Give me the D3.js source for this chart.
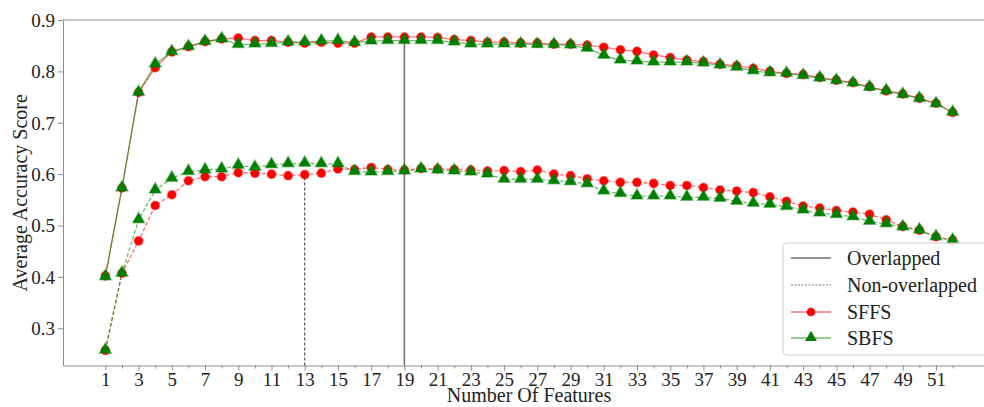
<!DOCTYPE html>
<html>
<head>
<meta charset="utf-8">
<script src="https://cdn.jsdelivr.net/npm/d3@7"></script>
<style>
  body { margin: 0; background: #fff; }
  svg { display: block; }
  svg text { font-family: "Liberation Serif", "Times New Roman", serif; }
</style>
</head>
<body>
<svg class="chart"></svg>
<script>
// number of features 1..52
var features = d3.range(1, 53);
var xTickLabels = d3.range(1, 52, 2);
var yTickLabels = [0.3, 0.4, 0.5, 0.6, 0.7, 0.8, 0.9];

// overlapped (solid)
var sffsOverlapped = [0.402, 0.573, 0.759, 0.807, 0.838, 0.848, 0.858, 0.863, 0.865, 0.860,
    0.860, 0.857, 0.855, 0.857, 0.855, 0.855, 0.867, 0.867, 0.867, 0.867,
    0.866, 0.862, 0.860, 0.857, 0.857, 0.855, 0.855, 0.853, 0.853, 0.851,
    0.847, 0.842, 0.839, 0.832, 0.827, 0.822, 0.819, 0.814, 0.811, 0.806,
    0.800, 0.796, 0.794, 0.788, 0.783, 0.778, 0.770, 0.762, 0.756, 0.748,
    0.738, 0.720];
var sbfsOverlapped = [0.400, 0.573, 0.759, 0.814, 0.838, 0.848, 0.858, 0.863, 0.852, 0.853,
    0.854, 0.857, 0.857, 0.859, 0.860, 0.856, 0.859, 0.860, 0.860, 0.860,
    0.860, 0.857, 0.853, 0.853, 0.853, 0.853, 0.852, 0.852, 0.851, 0.845,
    0.831, 0.822, 0.820, 0.818, 0.818, 0.818, 0.816, 0.812, 0.808, 0.801,
    0.797, 0.796, 0.792, 0.787, 0.782, 0.777, 0.769, 0.762, 0.755, 0.747,
    0.737, 0.720];

// non-overlapped (dashed)
var sffsNonOverlapped = [0.257, 0.407, 0.470, 0.539, 0.560, 0.587, 0.595, 0.595, 0.603, 0.602,
    0.600, 0.597, 0.599, 0.602, 0.610, 0.609, 0.613, 0.609, 0.608, 0.611,
    0.610, 0.609, 0.608, 0.606, 0.607, 0.605, 0.608, 0.600, 0.597, 0.591,
    0.587, 0.584, 0.584, 0.582, 0.578, 0.578, 0.574, 0.569, 0.567, 0.564,
    0.556, 0.547, 0.538, 0.534, 0.529, 0.526, 0.522, 0.511, 0.498, 0.491,
    0.478, 0.471];
var sbfsNonOverlapped = [0.257, 0.407, 0.511, 0.569, 0.592, 0.605, 0.608, 0.610, 0.617, 0.613,
    0.618, 0.620, 0.621, 0.620, 0.620, 0.605, 0.604, 0.605, 0.606, 0.610,
    0.608, 0.606, 0.604, 0.600, 0.590, 0.590, 0.590, 0.587, 0.585, 0.581,
    0.567, 0.562, 0.557, 0.557, 0.557, 0.555, 0.555, 0.553, 0.547, 0.543,
    0.541, 0.537, 0.530, 0.524, 0.521, 0.517, 0.508, 0.503, 0.497, 0.491,
    0.478, 0.471];

// best subsets marked with vertical lines
var overlappedBest = 19, overlappedBestScore = 0.867;
var nonOverlappedBest = 13, nonOverlappedBestScore = 0.599;

var width = 984, height = 407;
var margin = { top: 20, right: -11, bottom: 41.5, left: 63 };

var svg = d3.select(".chart")
    .attr("width", width)
    .attr("height", height);

var x = d3.scaleLinear().domain([-1.55, 54.55]).range([margin.left, width - margin.right]);
var y = d3.scaleLinear().domain([0.2275, 0.9]).range([height - margin.bottom, margin.top]);

var red = "#ff0000", green = "#008000";

// axes
var xAxis = svg.append("g")
    .attr("transform", "translate(0," + y.range()[0] + ")")
    .call(d3.axisBottom(x).tickValues(xTickLabels).tickFormat(d3.format("d")).tickSize(5).tickSizeOuter(0));
svg.append("g")
    .attr("transform", "translate(0," + y.range()[0] + ")")
    .call(d3.axisBottom(x).tickValues(features.filter(function(d) { return d % 2 === 0; }))
        .tickFormat("").tickSize(3).tickSizeOuter(0))
    .select(".domain").remove();
var yAxis = svg.append("g")
    .attr("transform", "translate(" + margin.left + ",0)")
    .call(d3.axisLeft(y).tickValues(yTickLabels).tickFormat(d3.format(".1f")).tickSize(5).tickSizeOuter(0));

svg.selectAll("g").attr("font-family", null);
svg.selectAll(".domain").attr("stroke", "#8c8c8c");
svg.selectAll(".tick line").attr("stroke", "#8c8c8c");
svg.selectAll(".tick text").attr("font-size", 19).attr("fill", "#222");
xAxis.selectAll(".tick text").attr("dy", "0.64em").attr("y", 8);
yAxis.selectAll(".tick text").attr("x", -8).attr("dy", "0.34em");

// top spine
svg.append("line")
    .attr("x1", margin.left).attr("x2", width - margin.right)
    .attr("y1", margin.top).attr("y2", margin.top)
    .attr("stroke", "#8c8c8c");

// axis titles
svg.append("text")
    .attr("x", (margin.left + width - margin.right) / 2)
    .attr("y", 402)
    .attr("text-anchor", "middle")
    .attr("font-size", 20).attr("fill", "#222")
    .text("Number Of Features");
svg.append("text")
    .attr("transform", "translate(27," + (margin.top + y.range()[0]) / 2 + ") rotate(-90)")
    .attr("text-anchor", "middle")
    .attr("font-size", 20).attr("fill", "#222")
    .text("Average Accuracy Score");

// vertical marker lines
svg.append("line")
    .attr("x1", x(overlappedBest)).attr("x2", x(overlappedBest))
    .attr("y1", y.range()[0]).attr("y2", y(overlappedBestScore))
    .attr("stroke", "#6e6e6e").attr("stroke-width", 1.5);
svg.append("line")
    .attr("x1", x(nonOverlappedBest)).attr("x2", x(nonOverlappedBest))
    .attr("y1", y.range()[0]).attr("y2", y(nonOverlappedBestScore))
    .attr("stroke", "#333").attr("stroke-width", 1).attr("stroke-dasharray", "3,2");

var line = d3.line()
    .x(function(d, i) { return x(features[i]); })
    .y(function(d) { return y(d); });

var triangle = d3.symbol().type(d3.symbolTriangle).size(60);

function drawSeries(values, color, marker, dashed) {
    svg.append("path")
        .datum(values)
        .attr("d", line)
        .attr("fill", "none")
        .attr("stroke", color)
        .attr("stroke-opacity", 0.55)
        .attr("stroke-width", 1.3)
        .attr("stroke-dasharray", dashed ? "4,2" : null);

    var g = svg.append("g");
    if (marker === "circle") {
        g.selectAll("circle").data(values).enter().append("circle")
            .attr("cx", function(d, i) { return x(features[i]); })
            .attr("cy", function(d) { return y(d); })
            .attr("r", 4.3)
            .attr("fill", color)
            .attr("stroke", color).attr("stroke-opacity", 0.4).attr("stroke-width", 1.5);
    } else {
        g.selectAll("path").data(values).enter().append("path")
            .attr("d", triangle)
            .attr("transform", function(d, i) { return "translate(" + x(features[i]) + "," + (y(d) - 0.5) + ")"; })
            .attr("fill", color)
            .attr("stroke", color).attr("stroke-opacity", 0.4).attr("stroke-width", 1.5);
    }
}

drawSeries(sffsOverlapped, red, "circle", false);
drawSeries(sbfsOverlapped, green, "triangle", false);
drawSeries(sffsNonOverlapped, red, "circle", true);
drawSeries(sbfsNonOverlapped, green, "triangle", true);

// legend
var legend = svg.append("g").attr("transform", "translate(783,243)");
legend.append("rect")
    .attr("width", 220).attr("height", 112).attr("rx", 4)
    .attr("fill", "#fff").attr("fill-opacity", 0.8)
    .attr("stroke", "#d0d0d0");

var legendItems = [
    { label: "Overlapped", color: "#6e6e6e", dash: null, marker: null, width: 1.5 },
    { label: "Non-overlapped", color: "#555", dash: "2,1.5", marker: null, width: 0.8 },
    { label: "SFFS", color: red, dash: null, marker: "circle", width: 1.3 },
    { label: "SBFS", color: green, dash: null, marker: "triangle", width: 1.3 }
];
var rowY = [15, 42, 69, 95];

legendItems.forEach(function(item, i) {
    var row = legend.append("g").attr("transform", "translate(0," + rowY[i] + ")");
    row.append("line")
        .attr("x1", 8).attr("x2", 48)
        .attr("stroke", item.color)
        .attr("stroke-opacity", item.marker ? 0.55 : 1)
        .attr("stroke-width", item.width)
        .attr("stroke-dasharray", item.dash);
    if (item.marker === "circle") {
        row.append("circle").attr("cx", 28).attr("r", 4.3).attr("fill", item.color);
    } else if (item.marker === "triangle") {
        row.append("path").attr("d", triangle).attr("transform", "translate(28,-0.5)").attr("fill", item.color);
    }
    row.append("text")
        .attr("x", 64).attr("dy", "0.35em")
        .attr("font-size", 20).attr("fill", "#222")
        .text(item.label);
});
</script>
</body>
</html>
